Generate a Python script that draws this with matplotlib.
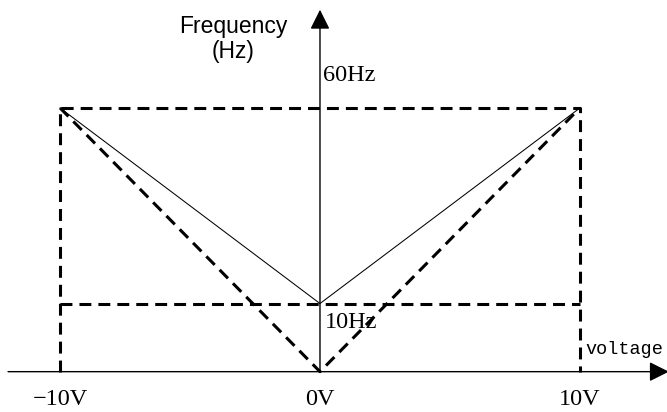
import numpy as np
import matplotlib
matplotlib.use("Agg")
from matplotlib import pyplot as plt

# voltage (V) and frequency (Hz) values of the diagram
volts = [-10, 0, 10]
f_max = 60
f_min = 10

# outer dashed frame and the bias line
frame_x = [-10, -10, 10, 10]
frame_y = [0, f_max, f_max, 0]
bias_x = [-10, 10]
bias_y = [f_min, f_min]

# dashed V (0..60 Hz) and thin V (10..60 Hz)
v_dash_y = [f_max, 0, f_max]
v_thin_y = [f_max, f_min, f_max]

tick_labels = ["\u221210V", "0V", "10V"]


# the drawing is a schematic: the 0-10Hz band is stretched a bit
def fwd(y):
    y = np.asarray(y, dtype=float)
    return np.where(y <= 10, y * 1.55, 15.5 + (y - 10) * 0.89)


def inv(s):
    s = np.asarray(s, dtype=float)
    return np.where(s <= 15.5, s / 1.55, 10 + (s - 15.5) / 0.89)


fig = plt.figure(figsize=(6.67, 4.12), dpi=100)
ax = fig.add_axes([0, 0, 1, 1])
ax.set_yscale("function", functions=(fwd, inv))
ax.set_xlim(-12.31, 13.35)
ax.set_ylim(-5.92, 87.6)
ax.axis("off")

dash_kw = dict(color="black", lw=2.2, dashes=(3.9, 2.3))
ax.plot(frame_x, frame_y, **dash_kw)
ax.plot(bias_x, bias_y, **dash_kw)
ax.plot(volts, v_dash_y, **dash_kw)
ax.plot(volts, v_thin_y, color="black", lw=0.75)

# axes with arrow heads
arrow = dict(arrowstyle="-|>", color="black", lw=1.0, mutation_scale=30,
             shrinkA=0, shrinkB=0)
ax.annotate("", xy=(13.42, 0), xytext=(-12.0, 0), arrowprops=arrow,
            annotation_clip=False)
ax.annotate("", xy=(0, 85.1), xytext=(0, 0), arrowprops=arrow,
            annotation_clip=False)

serif = dict(family="Liberation Serif", fontsize=17.5)
ax.text(0.1, 68.4, "%dHz" % f_max, ha="left", va="center", **serif)
ax.text(0.2, 7.2, "%dHz" % f_min, ha="left", va="center", **serif)
for v, lab in zip(volts, tick_labels):
    ax.text(v, -4.1, lab, ha="center", va="center", **serif)

ax.text(10.2, 3.3, "voltage", ha="left", va="center",
        family="Liberation Mono", fontsize=13.3)
ax.text(-3.35, 77.6, "Frequency\n(Hz)", ha="center", va="center",
        multialignment="center", family="Liberation Sans", fontsize=16.5,
        linespacing=1.1)

fig.savefig("out.png", dpi=100)
